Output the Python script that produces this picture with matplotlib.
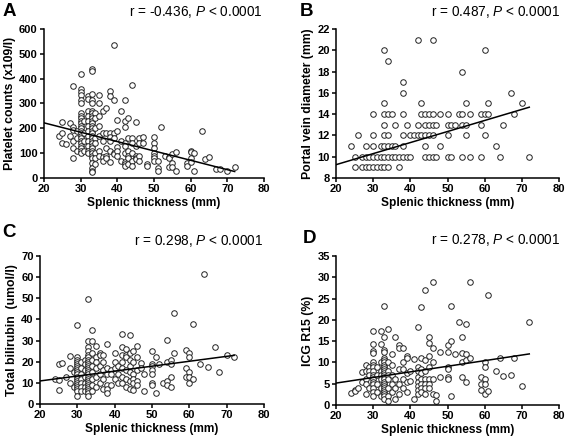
"""
脾厚度与各指标相关性散点图 (A-D)
"""
import matplotlib
matplotlib.use("Agg")
import matplotlib.pyplot as plt
import numpy as np

plt.rcParams['font.family'] = ['Liberation Sans', 'DejaVu Sans']
plt.rcParams['mathtext.fontset'] = 'custom'
plt.rcParams['mathtext.it'] = 'Liberation Sans:italic'
plt.rcParams['mathtext.rm'] = 'Liberation Sans'

# === A: 血小板 (x, [y...]) ===
a_cols = [
    (24, [170]), (25, [225, 180, 140]), (26, [135]), (27, [220, 170]),
    (28, [370, 205, 195, 150, 120, 80]), (29, [190, 160, 110]),
    (30, [420, 360, 345, 335, 315, 300, 260, 250, 240, 230, 220, 210, 200,
          190, 180, 170, 160, 150, 140, 130, 120, 110, 100]),
    (31, [230, 180, 150, 110]),
    (32, [330, 320, 270, 250, 230, 210, 190, 170, 150, 130, 110, 100]),
    (33, [438, 430, 340, 315, 300, 270, 260, 250, 240, 230, 220, 210, 200, 190,
          180, 170, 160, 150, 140, 130, 120, 110, 100, 90, 80, 60, 40, 30, 25]),
    (34, [260, 240, 200, 160, 140, 100, 80, 55]),
    (35, [335, 300, 250, 210, 170, 110, 90]),
    (36, [270, 180, 150, 85, 70]), (37, [280, 180, 120, 90, 80]),
    (38, [350, 330, 180, 165, 150, 110, 65]), (39, [535, 315, 180, 160, 100, 95]),
    (40, [235, 190, 125, 110, 90]), (41, [270, 150, 70]),
    (42, [315, 230, 205, 140, 130, 100, 65, 55, 50]), (43, [240, 160, 110, 90, 80, 55]),
    (44, [375, 160, 140, 100, 70, 50]), (45, [225, 130, 90, 80, 75]),
    (46, [160, 140, 90, 70]), (47, [165, 140]), (48, [55, 50]),
    (50, [165, 140, 120, 100, 90, 80, 70]), (51, [70, 40, 30]), (52, [205]),
    (53, [90]), (54, [85, 80, 45]), (55, [95, 60, 45]), (56, [105, 30]),
    (59, [60, 50]), (60, [110, 105, 80, 65]), (61, [100, 30]), (63, [190]),
    (64, [75]), (65, [85]), (67, [35]), (68, [35]), (70, [30]), (72, [45]),
]
a_line_x = [20, 72]
a_line_y = [222, 26]

# === B: 门静脉直径 ===
b_cols = [
    (24, [11]), (25, [10, 9]), (26, [12]), (27, [10, 9]), (28, [11, 10, 9]),
    (29, [10, 9]), (30, [14, 12, 11, 10, 9]), (31, [10, 9]), (32, [11, 10, 9]),
    (33, [20, 15, 14, 13, 12, 11, 10, 9]), (34, [19, 14, 12, 11, 10, 9]),
    (35, [14, 11, 10]), (36, [13, 11, 10]), (37, [10, 9]),
    (38, [17, 16, 14, 12, 11, 10]), (39, [13, 10]), (40, [12, 10]), (41, [12]),
    (42, [21, 13, 12]), (43, [15, 14, 12]), (44, [14, 13, 12, 11, 10]),
    (45, [14, 13, 12, 10]), (46, [21, 14, 13, 12, 10]), (47, [13, 10]),
    (48, [14, 11]), (50, [14, 13, 12, 10]), (51, [13, 10]), (52, [13]),
    (53, [14]), (54, [18, 14, 13, 10]), (55, [15, 13, 12]), (56, [14, 10]),
    (59, [14, 13, 10]), (60, [20, 14, 12]), (61, [15, 14]), (63, [11]),
    (64, [10]), (65, [13]), (67, [16]), (68, [14]), (70, [15]), (72, [10]),
]
b_line_x = [20, 72]
b_line_y = [9.25, 14.65]

# === C: 总胆红素 ===
c_cols = [
    (24, [12]), (25, [19, 11.5, 6.5]), (26, [19.5]), (27, [13]),
    (28, [22.5, 17, 10]), (29, [15, 8]),
    (30, [37.5, 22, 21, 20, 19, 18, 17, 16, 15, 14, 13, 12, 11, 10, 9, 8, 7, 6, 4]),
    (31, [20, 17, 14, 12, 10, 8, 6]), (32, [21, 19, 16, 13, 10, 8, 6]),
    (33, [49.5, 30, 27, 25, 23, 22, 21, 20, 19, 18, 17, 16, 15, 14, 13, 12, 11,
          10, 9, 8, 7, 6, 5, 4]),
    (34, [35, 30, 24, 21, 18, 15, 12, 9, 6]), (35, [27.5, 22, 20, 17, 13, 8]),
    (36, [24, 23, 18, 14, 10]), (37, [23, 20, 16, 12, 7]),
    (38, [28.5, 17, 14, 9, 7, 5]), (39, [16, 14, 9]), (40, [24, 20, 17, 12]),
    (41, [18, 14, 10]), (42, [33, 27, 23, 20, 17, 13, 10]),
    (43, [26, 23, 22, 16, 12, 8]), (44, [32.5, 24, 21, 18, 15, 11, 7]),
    (45, [25, 20, 14, 12, 10, 6.5]), (46, [27.5, 22, 16, 11, 9]),
    (47, [19.5, 17]), (48, [14, 6]), (50, [25, 19, 18, 16, 14, 10, 9]),
    (51, [22, 5]), (52, [19]), (53, [10]), (54, [30.5, 20, 11, 9]),
    (55, [21, 19, 13, 8]), (56, [43, 24]), (59, [25.5, 17, 13]),
    (60, [24, 22, 15, 13, 10]), (61, [38, 12]), (63, [19]), (64, [61.5]),
    (65, [17.5]), (67, [27]), (68, [15]), (70, [23]), (72, [22]),
]
c_line_x = [20, 72]
c_line_y = [10.9, 23.0]

# === D: ICG R15 ===
d_cols = [
    (24, [2.8]), (25, [3.5, 3.3]), (26, [4]), (27, [7.7, 5.5]),
    (28, [9.5, 8, 6, 5, 2.5]), (29, [9, 8, 7, 4]),
    (30, [17.3, 14.4, 12.8, 12.3, 10, 9.5, 9, 8, 7, 6.5, 6, 5.5, 5, 4, 3, 2]),
    (31, [9, 7, 5, 3]), (32, [17.3, 14.3, 10, 8, 7, 6, 4, 2]),
    (33, [23.2, 16, 13, 12.5, 11, 10.5, 10, 9.5, 9, 8.5, 8, 7.5, 7, 6.5, 6, 5.5,
          5, 4.5, 4, 3.5, 3, 2.5, 2, 1.5]),
    (34, [17.8, 10, 8, 7, 6, 4, 2, 1]), (35, [12, 9.5, 7, 5, 3]),
    (36, [16, 6, 4, 1.5]), (37, [14, 13.5, 8.5, 5, 2.5]),
    (38, [13.5, 10, 8.5, 6, 4]), (39, [11.5, 11, 7.5, 5.5, 3]), (40, [8, 5.7]),
    (41, [10.8, 1.5]), (42, [18.3, 9, 8, 6.5, 5.5, 4.5, 3.5, 2.5]),
    (43, [23, 11, 8.5, 7.5, 6, 5, 4, 3]), (44, [27, 10.5, 8, 6, 5, 4, 2.5]),
    (45, [16, 14.5, 11.5, 9, 6, 5, 4]), (46, [29, 13.5, 10, 6, 2.5]),
    (47, [2.3, 1]), (48, [12.5, 6.5]), (50, [14, 12.5, 9, 8.5, 6.5, 6]),
    (51, [23.2, 15, 2]), (52, [12]), (53, [19.5]), (54, [16, 12.3, 10, 6.5]),
    (55, [19, 12, 10.5, 5.5]), (56, [28.8, 11]),
    (59, [6.5, 5, 3.5]), (60, [10, 9, 6, 5, 2.5]), (61, [25.8, 3.3]), (63, [8]),
    (64, [11]), (65, [6.7]), (67, [7]), (68, [11]), (70, [4.5]), (72, [19.5]),
]
d_line_x = [20, 72]
d_line_y = [5.15, 12.0]


def flatten(cols):
    xs = [x for x, ys in cols for _ in ys]
    ys = [y for _, yl in cols for y in yl]
    return np.array(xs), np.array(ys)


def draw_panel(ax, cols, line_x, line_y, ylim, yticks, ylabel):
    x, y = flatten(cols)
    ax.plot(x, y, 'o', mfc='white', mec='#222222', ms=4.0, mew=0.7, clip_on=False)
    ax.plot(line_x, line_y, color='black', lw=1.1)
    ax.set_xlim(20, 80)
    ax.set_ylim(*ylim)
    ax.set_xticks([20, 30, 40, 50, 60, 70, 80])
    ax.set_yticks(yticks)
    ax.set_xlabel("Splenic thickness (mm)", fontsize=8.6, fontweight='bold', labelpad=2)
    ax.set_ylabel(ylabel, fontsize=8.8, fontweight='bold', labelpad=2)
    for s in ['top', 'right']:
        ax.spines[s].set_visible(False)
    for s in ['left', 'bottom']:
        ax.spines[s].set_linewidth(1.1)
    ax.tick_params(direction='out', length=3, width=1.1, labelsize=8, pad=1.5)
    for lab in ax.get_xticklabels() + ax.get_yticklabels():
        lab.set_fontweight('bold')


fig = plt.figure(figsize=(5.67, 4.41), dpi=100)
ax_a = fig.add_axes([0.0776, 0.5964, 0.388, 0.3379])
ax_b = fig.add_axes([0.5926, 0.5964, 0.3933, 0.3379])
ax_c = fig.add_axes([0.0705, 0.0839, 0.395, 0.3356])
ax_d = fig.add_axes([0.5926, 0.0816, 0.3933, 0.3379])

draw_panel(ax_a, a_cols, a_line_x, a_line_y, (0, 600), range(0, 601, 100),
           "Platelet counts (x109/l)")
draw_panel(ax_b, b_cols, b_line_x, b_line_y, (8, 22), range(8, 23, 2),
           "Portal vein diameter (mm)")
draw_panel(ax_c, c_cols, c_line_x, c_line_y, (0, 70), range(0, 71, 10),
           "Total bilirubin  (umol/l)")
draw_panel(ax_d, d_cols, d_line_x, d_line_y, (0, 35), range(0, 36, 5),
           "ICG R15 (%)")

# 面板字母与相关系数
letters = [("A", 0.004, 0.975), ("B", 0.529, 0.975), ("C", 0.004, 0.4717), ("D", 0.534, 0.4603)]
for txt, x, y in letters:
    fig.text(x, y, txt, fontsize=13.5, fontweight='bold', ha='left', va='center')

stats = [("-0.436", 0.464, 0.973), ("0.487", 0.988, 0.973),
         ("0.298", 0.464, 0.4535), ("0.278", 0.988, 0.4558)]
for r, x, y in stats:
    fig.text(x, y, f"r = {r}, $P$ < 0.0001", fontsize=9.8, ha='right', va='center')

fig.savefig("out.png", dpi=100)
